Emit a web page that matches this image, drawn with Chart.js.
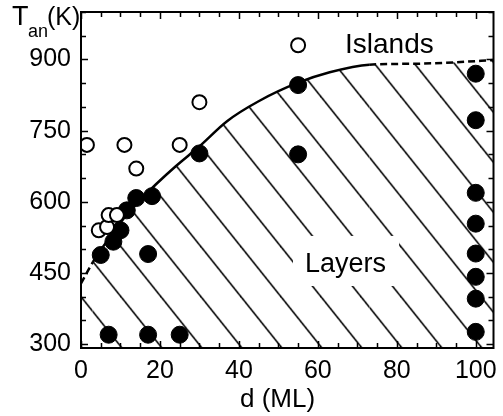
<!DOCTYPE html>
<html>
<head>
<meta charset="utf-8">
<script src="https://cdn.jsdelivr.net/npm/chart.js@4.4.0/dist/chart.umd.min.js"></script>
<style>
  html, body { margin: 0; padding: 0; background: #fff; }
  #wrap { width: 503px; height: 416px; }
</style>
</head>
<body>
<div id="wrap"><canvas id="phase"></canvas></div>
<script>
// open circles (islands)
const islandsD = [1.5, 11, 14, 25, 30, 55, 4.5, 6.6, 7, 9.1];
const islandsT = [720, 720, 670, 720, 810, 930, 540, 547, 572, 572];

// filled circles (layers)
const layersD = [5, 8.2, 10, 11.6, 14, 18, 17, 7, 17, 25, 30, 55, 55, 100, 100, 100, 100, 100, 100, 100, 100];
const layersT = [488, 516, 540, 582, 608, 612, 490, 320, 320, 320, 702, 846, 700, 870, 772, 619, 554, 491, 442, 396, 326];

// boundary islands / layers
const boundaryD = [0, 3, 6, 9, 12, 15, 19, 24, 30, 37, 45, 55, 63, 73, 85, 95, 104.5];
const boundaryT = [428, 473, 510, 545, 577, 604, 637, 675, 717, 770, 812, 851, 873, 889, 891, 894, 899];

const xTicks = [0, 20, 40, 60, 80, 100];
const yTicks = [300, 450, 600, 750, 900];

const FONT = "'Liberation Sans', Arial, Helvetica, sans-serif";
const canvas = document.getElementById('phase');

function hatch() {
  const c = document.createElement('canvas');
  c.width = 40; c.height = 50;
  const g = c.getContext('2d');
  g.strokeStyle = '#000';
  g.lineWidth = 1.6;
  for (const off of [-40, 0, 40]) {
    g.beginPath();
    g.moveTo(off - 20, -25);
    g.lineTo(off + 60, 75);
    g.stroke();
  }
  const p = canvas.getContext('2d').createPattern(c, 'repeat');
  p.setTransform(new DOMMatrix().translate(0, 45.5));
  return p;
}

const pts = (xs, ys) => xs.map((v, i) => ({ x: v, y: ys[i] }));

const decor = {
  id: 'decor',
  afterDatasetsDraw(chart) {
    const ctx = chart.ctx;
    ctx.save();
    ctx.fillStyle = '#fff';
    ctx.fillRect(293, 236, 106, 50);
    ctx.fillStyle = '#000';
    ctx.font = '27px ' + FONT;
    ctx.textBaseline = 'alphabetic';
    ctx.fillText('Layers', 305, 272);
    ctx.restore();
  },
  afterDraw(chart) {
    const { ctx, chartArea: a, scales: { x, y } } = chart;
    ctx.save();
    ctx.strokeStyle = '#000';
    ctx.lineWidth = 2;
    ctx.strokeRect(a.left, a.top, a.right - a.left, a.bottom - a.top);
    ctx.lineWidth = 1.5;
    ctx.beginPath();
    for (let v = 0; v <= x.max; v += 5) {
      const px = Math.round(x.getPixelForValue(v)) + 0.5;
      const len = v % 20 === 0 ? 7 : 5;
      ctx.moveTo(px, a.bottom); ctx.lineTo(px, a.bottom - len);
      ctx.moveTo(px, a.top); ctx.lineTo(px, a.top + len);
    }
    for (let v = 300; v <= y.max; v += 50) {
      const py = Math.round(y.getPixelForValue(v)) + 0.5;
      const len = v % 150 === 0 ? 7 : 5;
      ctx.moveTo(a.left, py); ctx.lineTo(a.left + len, py);
      ctx.moveTo(a.right, py); ctx.lineTo(a.right - len, py);
    }
    ctx.stroke();

    ctx.fillStyle = '#000';
    ctx.textBaseline = 'alphabetic';
    ctx.font = '27px ' + FONT;
    ctx.fillText('T', 12, 25);
    ctx.font = '18px ' + FONT;
    ctx.fillText('an', 28, 37);
    ctx.font = '25px ' + FONT;
    ctx.fillText('(K)', 47, 25);
    ctx.font = '26px ' + FONT;
    ctx.fillText('d (ML)', 240, 407);
    ctx.font = '28px ' + FONT;
    ctx.fillText('Islands', 345, 53);
    ctx.restore();
  }
};

new Chart(canvas, {
  type: 'scatter',
  data: {
    datasets: [
      {
        label: 'Islands',
        data: pts(islandsD, islandsT),
        order: 1,
        pointRadius: 7,
        pointBorderWidth: 2,
        pointBackgroundColor: '#fff',
        pointBorderColor: '#000'
      },
      {
        label: 'Layers',
        data: pts(layersD, layersT),
        order: 2,
        pointRadius: 8.5,
        pointBorderWidth: 1,
        pointBackgroundColor: '#000',
        pointBorderColor: '#000'
      },
      {
        type: 'line',
        label: 'boundary',
        data: pts(boundaryD, boundaryT),
        order: 3,
        borderColor: '#000',
        borderWidth: 2.5,
        pointRadius: 0,
        cubicInterpolationMode: 'monotone',
        fill: 'start',
        backgroundColor: hatch(),
        segment: {
          borderDash: c => (c.p1.parsed.x <= 3 || c.p0.parsed.x >= 73) ? [7, 4] : undefined
        }
      }
    ]
  },
  options: {
    responsive: true,
    maintainAspectRatio: false,
    animation: false,
    events: [],
    layout: { padding: { top: 12, right: 3, left: 0, bottom: 0 } },
    plugins: { legend: { display: false }, tooltip: { enabled: false } },
    scales: {
      x: {
        type: 'linear',
        min: 0,
        max: 104.5,
        afterBuildTicks: s => { s.ticks = xTicks.map(v => ({ value: v })); },
        afterFit: s => { s.height = 68; s.paddingLeft = 0; s.paddingRight = 0; },
        grid: { display: false, drawTicks: false },
        border: { display: false },
        ticks: { color: '#000', font: { family: FONT, size: 25 }, padding: 8, maxRotation: 0, autoSkip: false }
      },
      y: {
        type: 'linear',
        min: 292,
        max: 1000,
        afterBuildTicks: s => { s.ticks = yTicks.map(v => ({ value: v })); },
        afterFit: s => { s.width = 81; s.paddingTop = 0; s.paddingBottom = 0; },
        grid: { display: false, drawTicks: false },
        border: { display: false },
        ticks: { color: '#000', font: { family: FONT, size: 25 }, padding: 10, autoSkip: false }
      }
    }
  },
  plugins: [decor]
});
</script>
</body>
</html>
